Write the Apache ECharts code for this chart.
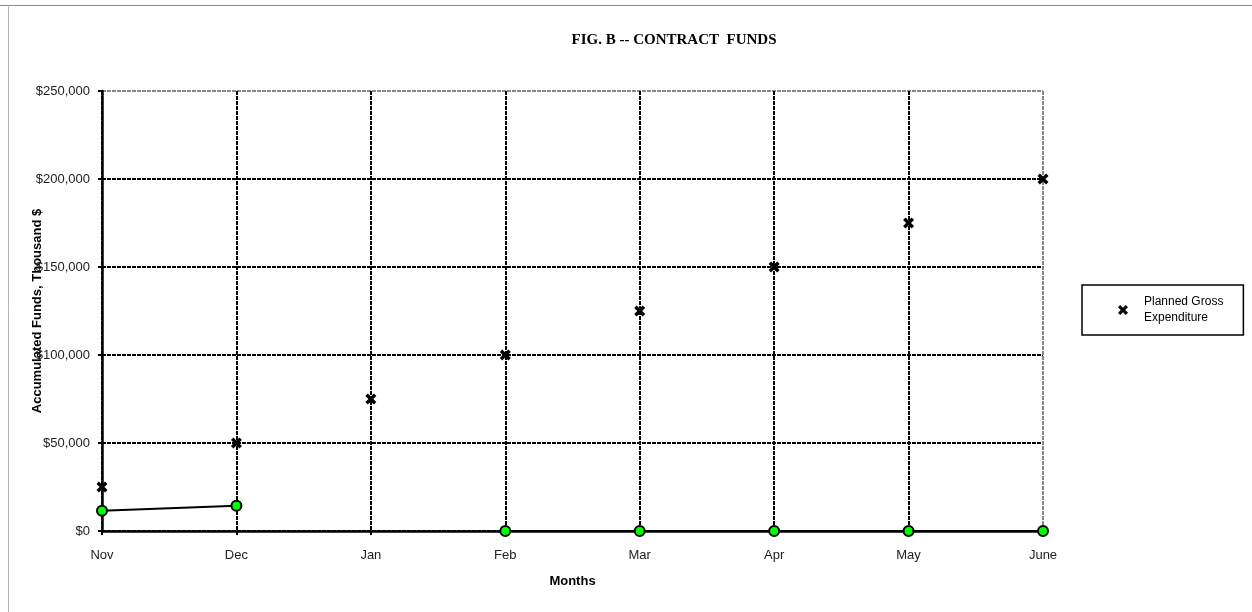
<!DOCTYPE html>
<html>
<head>
<meta charset="utf-8">
<script src="https://cdn.jsdelivr.net/npm/echarts@6/dist/echarts.min.js"></script>
<style>
  html, body { margin: 0; padding: 0; background: #fff; }
  #chart { width: 1252px; height: 612px; }
</style>
</head>
<body>
<div id="chart"></div>
<script>
const months = ["Nov", "Dec", "Jan", "Feb", "Mar", "Apr", "May", "June"];
const planned = [25000, 50000, 75000, 100000, 125000, 150000, 175000, 200000];
const actual = [11500, 14400, null, 0, 0, 0, 0, 0];

// bold "x" marker like the spreadsheet one
const crossIcon =
  "path://M0,2.2 L2.2,0 L5,2.8 L7.8,0 L10,2.2 L7.2,5 L10,7.8 L7.8,10 L5,7.2 L2.2,10 L0,7.8 L2.8,5 Z";

const myChart = echarts.init(document.getElementById("chart"));

let option = {
  backgroundColor: "#fff",
  animation: false,
  title: {
    text: "FIG. B -- CONTRACT  FUNDS",
    left: 669,
    textAlign: "center",
    top: 28,
    textStyle: {
      fontFamily: "Liberation Serif",
      fontSize: 15,
      fontWeight: "bold",
      color: "#000"
    }
  },
  graphic: [
    {
      type: "line",
      shape: { x1: 0, y1: 5.5, x2: 1252, y2: 5.5 },
      style: { stroke: "#8c8c8c", lineWidth: 1 }
    },
    {
      type: "line",
      shape: { x1: 8.5, y1: 5, x2: 8.5, y2: 612 },
      style: { stroke: "#b4b4b4", lineWidth: 1 }
    }
  ],
  legend: {
    data: ["Planned Gross\nExpenditure"],
    left: 1082,
    top: 285,
    orient: "vertical",
    padding: [9, 20, 9, 36],
    borderColor: "#000",
    borderWidth: 1.5,
    itemWidth: 10,
    itemHeight: 10,
    icon: crossIcon,
    textStyle: {
      fontFamily: "Liberation Sans",
      fontSize: 12,
      lineHeight: 16,
      color: "#000",
      padding: [0, 0, 0, 11]
    }
  },
  grid: {
    left: 102,
    right: 209,
    top: 91,
    bottom: 81,
    show: false
  },
  xAxis: {
    type: "category",
    data: months,
    boundaryGap: false,
    name: "Months",
    nameLocation: "middle",
    nameGap: 44,
    nameTextStyle: {
      fontFamily: "Liberation Sans",
      fontSize: 13,
      fontWeight: "bold",
      color: "#000"
    },
    axisLine: { lineStyle: { color: "#000", width: 2.5 } },
    axisTick: { show: true, length: 4, lineStyle: { color: "#000", width: 2 } },
    axisLabel: {
      fontFamily: "Liberation Sans",
      fontSize: 13,
      color: "#222",
      margin: 18
    },
    splitLine: {
      show: true,
      lineStyle: {
        color: ["#000", "#000", "#000", "#000", "#000", "#000", "#000", "#888"],
        width: 2,
        type: [4, 1]
      }
    }
  },
  yAxis: {
    type: "value",
    min: 0,
    max: 250000,
    interval: 50000,
    name: "Accumulated Funds, Thousand $",
    nameLocation: "middle",
    nameGap: 58,
    nameMoveOverlap: false,
    nameTextStyle: {
      fontFamily: "Liberation Sans",
      fontSize: 13,
      fontWeight: "bold",
      color: "#000"
    },
    axisLine: { show: true, lineStyle: { color: "#000", width: 2.5 } },
    axisTick: { show: true, length: 4, lineStyle: { color: "#000", width: 2 } },
    axisLabel: {
      fontFamily: "Liberation Sans",
      fontSize: 13,
      color: "#222",
      margin: 12,
      formatter: function(value) {
        return "$" + value.toLocaleString("en-US");
      }
    },
    splitLine: {
      show: true,
      lineStyle: {
        color: ["#000", "#000", "#000", "#000", "#000", "#888"],
        width: 2,
        type: [4, 1]
      }
    }
  },
  series: [
    {
      name: "Planned Gross\nExpenditure",
      type: "line",
      data: planned,
      symbol: crossIcon,
      symbolSize: 11,
      lineStyle: { width: 0, opacity: 0 },
      itemStyle: { color: "#000" },
      z: 4
    },
    {
      name: "Actual",
      type: "line",
      data: actual,
      connectNulls: false,
      symbol: "circle",
      symbolSize: 10,
      showAllSymbol: true,
      lineStyle: { color: "#000", width: 2 },
      itemStyle: { color: "#00ff00", borderColor: "#000", borderWidth: 2 },
      z: 5
    }
  ]
};
myChart.setOption(option, true);
</script>
</body>
</html>
